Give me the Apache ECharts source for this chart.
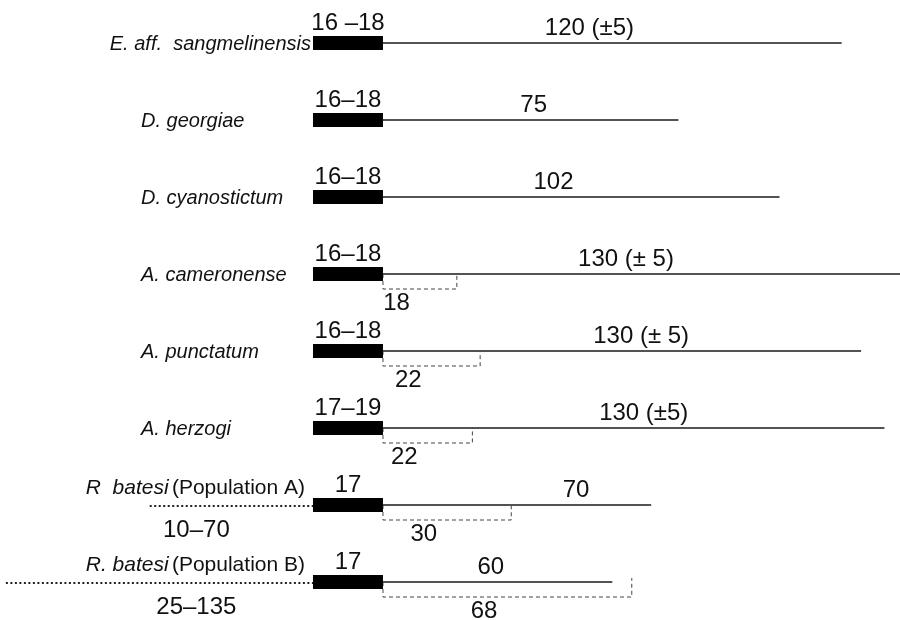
<!DOCTYPE html>
<html>
<head>
<meta charset="UTF-8" />
<title>Development periods</title>
<script src="https://cdn.jsdelivr.net/npm/echarts@6/dist/echarts.min.js"></script>
</head>
<body style="margin:0;background:#fff">
<div id="chart" style="width:900px;height:620px"></div>
<script>
// rows, top to bottom
var species = ['E. aff.  sangmelinensis', 'D. georgiae', 'D. cyanostictum', 'A. cameronense',
  'A. punctatum', 'A. herzogi', 'R  batesi', 'R. batesi'];
var population = ['', '', '', '', '', '', '(Population A)', '(Population B)'];
// black bar (days)
var barEnd = [18, 18, 18, 18, 18, 18, 18, 18];
var barLabels = ['16 \u201318', '16\u201318', '16\u201318', '16\u201318', '16\u201318', '17\u201319', '17', '17'];
// thin line after the bar
var lineLength = [118, 76, 102, 133, 123, 129, 69, 59];
var lineLabels = ['120 (\u00b15)', '75', '102', '130 (\u00b1 5)', '130 (\u00b1 5)', '130 (\u00b15)', '70', '60'];
// dashed bracket under the line
var bracketLength = [0, 0, 0, 19, 25, 23, 33, 64];
var bracketLabels = ['', '', '', '18', '22', '22', '30', '68'];
// dotted line before the bar
var preLength = [0, 0, 0, 0, 0, 0, 42, 79];
var preLabels = ['', '', '', '', '', '', '10\u201370', '25\u2013135'];

// layout only
var lineLabelAt = [0.45, 0.51, 0.43, 0.47, 0.54, 0.52, 0.72, 0.47];
var nameAlign = ['right', 'left', 'left', 'left', 'left', 'left', 'right', 'right'];
var NUM_FONT = '24px "Liberation Sans", Arial, sans-serif';

function renderRow(params, api) {
  var i = api.value(1);
  var y = api.coord([0, i])[1];
  var px = function (v) { return api.coord([v, i])[0]; };
  var x0 = px(0), xb = px(barEnd[i]), xe = px(barEnd[i] + lineLength[i]);
  var kids = [];

  // pre-phase dotted line
  if (preLength[i]) {
    kids.push({ type: 'line', shape: { x1: px(-preLength[i]), y1: y + 1, x2: x0, y2: y + 1 },
      style: { stroke: '#222', lineWidth: 2, lineDash: [2, 2.5] } });
    kids.push({ type: 'text', x: px(-30), y: y + 25,
      style: { text: preLabels[i], font: NUM_FONT, fill: '#111', align: 'center', verticalAlign: 'middle' } });
  }

  // line and its label
  kids.push({ type: 'line', shape: { x1: xb, y1: y, x2: xe, y2: y },
    style: { stroke: '#1a1a1a', lineWidth: 1.6 } });
  kids.push({ type: 'text', x: px(barEnd[i] + lineLength[i] * lineLabelAt[i]), y: y - 15,
    style: { text: lineLabels[i], font: NUM_FONT, fill: '#111', align: 'center', verticalAlign: 'middle' } });

  // bracket
  if (bracketLength[i]) {
    var xr = px(barEnd[i] + bracketLength[i]);
    var top = xr > xe ? y - 4 : y;
    kids.push({ type: 'polyline',
      shape: { points: [[xb, y], [xb, y + 15], [xr, y + 15], [xr, top]] },
      style: { stroke: '#444', lineWidth: 1, lineDash: [4, 3], fill: null } });
    var off = Math.max(3.5, bracketLength[i] * 0.5 - 6);
    kids.push({ type: 'text', x: px(barEnd[i] + off), y: y + 29,
      style: { text: bracketLabels[i], font: NUM_FONT, fill: '#111', align: 'center', verticalAlign: 'middle' } });
  }

  // black bar and its label
  kids.push({ type: 'rect', shape: { x: x0, y: y - 7, width: xb - x0, height: 14 },
    style: { fill: '#000' } });
  kids.push({ type: 'text', x: (x0 + xb) / 2, y: y - 20,
    style: { text: barLabels[i], font: NUM_FONT, fill: '#111', align: 'center', verticalAlign: 'middle' } });

  // species name
  var txt = '{i|' + species[i] + '}' + (population[i] ? ' {n|' + population[i] + '}' : '');
  var nx = nameAlign[i] === 'right' ? x0 - (population[i] ? 8 : 2) : 141;
  var ny = population[i] ? y - 17 : y + 1;
  kids.push({ type: 'text', x: nx, y: ny,
    style: { text: txt, align: nameAlign[i], verticalAlign: 'middle',
      rich: {
        i: { fontStyle: 'italic', fontSize: population[i] ? 21 : 20, fontFamily: 'Liberation Sans', fill: '#111' },
        n: { fontSize: 21, fontFamily: 'Liberation Sans', fill: '#111' }
      } } });

  return { type: 'group', children: kids };
}

var chart = echarts.init(document.getElementById('chart'));
chart.setOption({
  backgroundColor: '#fff',
  animation: false,
  grid: { left: 2, right: 0, top: 43, bottom: 38 },
  xAxis: { type: 'value', min: -80, max: 151, show: false },
  yAxis: { type: 'value', min: 0, max: 7, inverse: true, show: false },
  series: [{
    type: 'custom',
    renderItem: renderRow,
    encode: { x: 0, y: 1 },
    data: species.map(function (s, i) { return [0, i]; })
  }]
});
</script>
</body>
</html>
